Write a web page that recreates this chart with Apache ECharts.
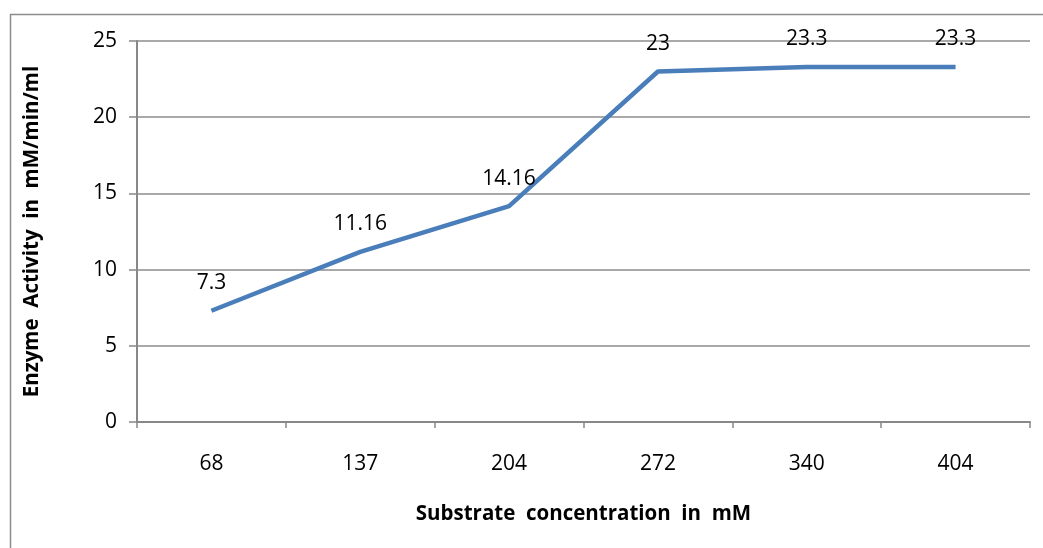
<!DOCTYPE html>
<html><head><meta charset="utf-8">
<script src="https://cdn.jsdelivr.net/npm/echarts@6/dist/echarts.min.js"></script>
<style>html,body{margin:0;padding:0;background:#fff}#c{width:1043px;height:548px}</style>
</head><body><div id="c"></div>
<script>
const categories = ['68','137','204','272','340','404'];
const activity = [7.3, 11.16, 14.16, 23, 23.3, 23.3];
const yTicks = [0, 5, 10, 15, 20, 25];
const xTitle = 'Substrate  concentration  in  mM';
const yTitle = 'Enzyme  Activity  in  mM/min/ml';

const chart = echarts.init(document.getElementById('c'));
const font = '"Open Sans", "Noto Sans", sans-serif';
chart.setOption({
  animation: false,
  graphic: [{type:'rect', shape:{x:10.5,y:14.5,width:1100,height:600}, style:{fill:'none', stroke:'#8c8c8c', lineWidth:1.5}}],
  grid: {left:137, right:13, top:41, bottom:126},
  xAxis: {
    type:'category', data:categories, boundaryGap:true,
    name:xTitle, nameLocation:'middle', nameGap:82,
    nameTextStyle:{fontFamily:font, fontWeight:'bold', fontSize:20.5, color:'#000'},
    axisLine:{lineStyle:{color:'#888', width:2}},
    axisTick:{show:true, length:6, lineStyle:{color:'#888', width:1.5}},
    axisLabel:{fontFamily:font, fontSize:21, color:'#000', margin:32}
  },
  yAxis: {
    type:'value', min:yTicks[0], max:yTicks[yTicks.length-1], interval:5,
    name:yTitle, nameLocation:'middle', nameGap:94, nameRotate:90,
    nameTextStyle:{fontFamily:font, fontWeight:'bold', fontSize:20.5, color:'#000'},
    axisLine:{show:true, lineStyle:{color:'#888', width:2}},
    axisTick:{show:true, length:8, inside:false, lineStyle:{color:'#888', width:1.5}},
    axisLabel:{fontFamily:font, fontSize:21, color:'#000', margin:20},
    splitLine:{lineStyle:{color:'#8c8c8c', width:1.5}}
  },
  series: [{
    type:'line', data:activity, symbol:'circle', symbolSize:0, showSymbol:true,
    lineStyle:{color:'#4a7ebb', width:4.5},
    itemStyle:{color:'#4a7ebb'},
    label:{show:true, position:'top', distance:17, fontFamily:font, fontSize:21, color:'#000',
      formatter: p => String(p.value)}
  }]
});
</script></body></html>
